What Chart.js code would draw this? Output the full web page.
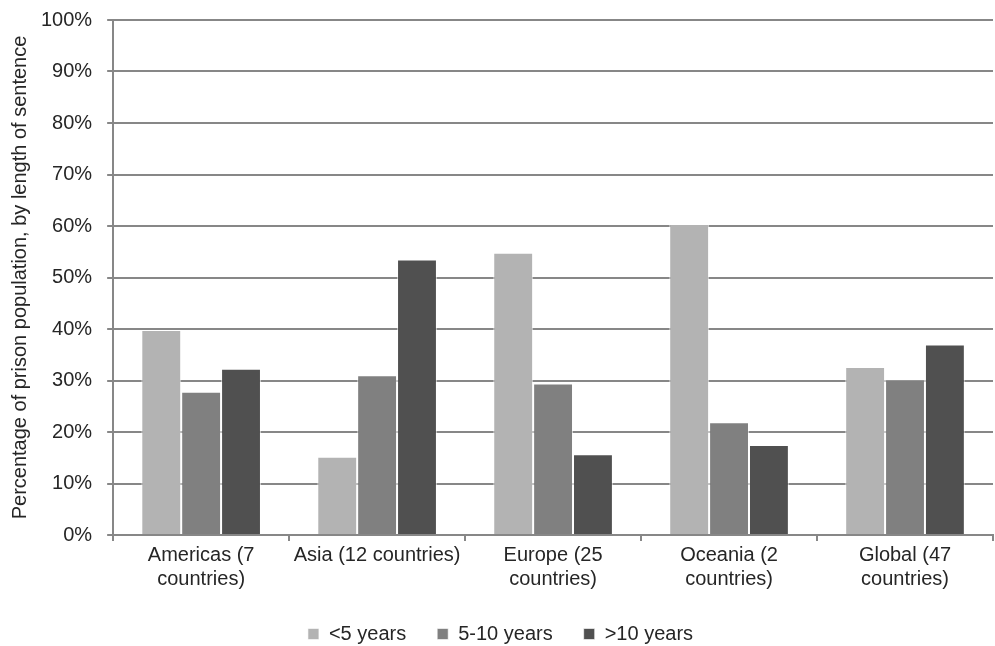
<!DOCTYPE html>
<html>
<head>
<meta charset="utf-8">
<script src="https://cdn.jsdelivr.net/npm/chart.js@4/dist/chart.umd.min.js"></script>
<style>
  html, body { margin: 0; padding: 0; background: #fff; }
  #wrap { width: 995px; height: 646px; position: relative; }
</style>
</head>
<body>
<div id="wrap"><canvas id="chart" width="995" height="646"></canvas></div>
<script>
  // categorías y valores
  var CATEGORIAS = [
    ['Americas (7', 'countries)'],
    'Asia (12 countries)',
    ['Europe (25', 'countries)'],
    ['Oceania (2', 'countries)'],
    ['Global (47', 'countries)']
  ];
  var SERIES = ['<5 years', '5-10 years', '>10 years'];
  var MENOS_5 = [39.8, 15.2, 54.8, 60.4, 32.6];
  var DE_5_A_10 = [27.8, 31.0, 29.4, 21.9, 30.2];
  var MAS_10 = [32.3, 53.5, 15.7, 17.5, 37.0];
  var COLORES = ['#b3b3b3', '#808080', '#505050'];

  var FUENTE = 'Arial, "Liberation Sans", sans-serif';
  var TAM = 20;
  var GRIS = '#878787';

  var valores = [MENOS_5, DE_5_A_10, MAS_10];
  var datasets = SERIES.map(function (s, i) {
    return {
      label: s,
      data: valores[i],
      backgroundColor: COLORES[i],
      borderColor: 'rgba(255,255,255,0.6)',
      borderWidth: 1,
      barPercentage: 1,
      categoryPercentage: 0.68
    };
  });

  new Chart(document.getElementById('chart').getContext('2d'), {
    type: 'bar',
    data: { labels: CATEGORIAS, datasets: datasets },
    options: {
      responsive: false,
      animation: false,
      layout: { padding: { top: 0, right: 2, left: 8, bottom: -8 } },
      plugins: {
        tooltip: { enabled: false },
        legend: {
          position: 'bottom',
          labels: {
            color: '#262626',
            font: { family: FUENTE, size: TAM },
            boxWidth: 11,
            boxHeight: 11,
            padding: 31,
            useBorderRadius: false
          }
        }
      },
      scales: {
        x: {
          grid: {
            drawOnChartArea: false,
            drawTicks: true,
            tickLength: 6,
            color: GRIS,
            lineWidth: 2
          },
          border: { color: GRIS, width: 2 },
          ticks: {
            color: '#262626',
            font: { family: FUENTE, size: TAM, lineHeight: 1.2 },
            padding: 2,
            maxRotation: 0,
            autoSkip: false
          }
        },
        y: {
          min: 0,
          max: 100,
          grid: { color: GRIS, lineWidth: 2, tickLength: 6 },
          border: { color: GRIS, width: 2 },
          ticks: {
            stepSize: 10,
            color: '#262626',
            font: { family: FUENTE, size: TAM, lineHeight: 0.5 },
            padding: 15,
            callback: function (v) { return v + '%'; }
          },
          title: {
            display: true,
            text: 'Percentage of prison population, by length of sentence',
            color: '#262626',
            font: { family: FUENTE, size: TAM },
            padding: { top: 0, bottom: -6 }
          }
        }
      }
    }
  });
</script>
</body>
</html>
